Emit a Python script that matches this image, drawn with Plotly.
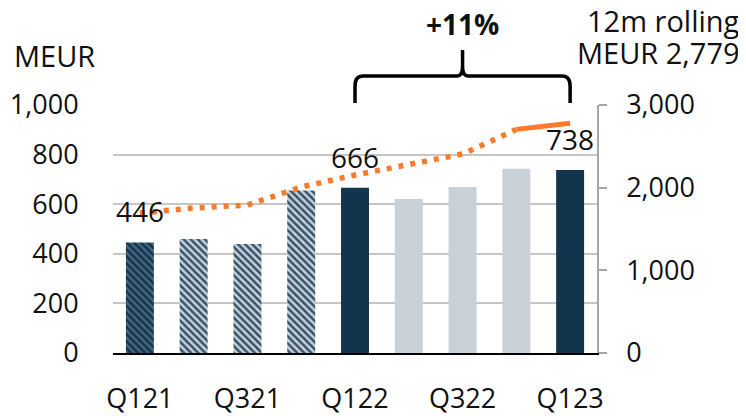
import plotly.graph_objects as go

quarters = ["Q121", "Q221", "Q321", "Q421", "Q122", "Q222", "Q322", "Q422", "Q123"]
revenue = [446, 460, 440, 655, 666, 621, 669, 743, 738]
rolling_12m = [1693, 1754, 1790, 2008, 2153, 2274, 2407, 2705, 2779]
labelled = [0, 4, 8]
growth_text = "+11%"
rolling_label = "MEUR 2,779"

NAVY = "#12344d"
GREY = "#c9d1d8"
ORANGE = "#fb7a2c"
FONT = "Open Sans"
TXT = "#111111"

pos = list(range(len(quarters)))

hatched_navy = [0]
hatched_grey = [1, 2, 3]
solid = [4, 5, 6, 7, 8]
solid_colors = [NAVY, GREY, GREY, GREY, NAVY]

fig = go.Figure()
fig.add_trace(go.Bar(
    x=[pos[i] for i in hatched_navy], y=[revenue[i] for i in hatched_navy], width=0.52,
    marker=dict(color=NAVY, line=dict(width=0),
                pattern=dict(shape="\\", fgcolor="#46667e", bgcolor=NAVY,
                             size=5, solidity=0.5, fillmode="replace")),
    hoverinfo="skip", showlegend=False,
))
fig.add_trace(go.Bar(
    x=[pos[i] for i in hatched_grey], y=[revenue[i] for i in hatched_grey], width=0.52,
    marker=dict(color=GREY, line=dict(width=0),
                pattern=dict(shape="\\", fgcolor="#34526a", bgcolor=GREY,
                             size=5, solidity=0.5, fillmode="replace")),
    hoverinfo="skip", showlegend=False,
))
fig.add_trace(go.Bar(
    x=[pos[i] for i in solid], y=[revenue[i] for i in solid], width=0.52,
    marker=dict(color=solid_colors, line=dict(width=0)),
    hoverinfo="skip", showlegend=False,
))

# dotted part of rolling line
fig.add_trace(go.Scatter(
    x=pos[:8], y=rolling_12m[:8], mode="lines", yaxis="y2",
    line=dict(color=ORANGE, width=5.5, dash="5px,7px"),
    showlegend=False, hoverinfo="skip",
))
# solid last segment
fig.add_trace(go.Scatter(
    x=pos[7:], y=rolling_12m[7:], mode="lines", yaxis="y2",
    line=dict(color=ORANGE, width=5),
    showlegend=False, hoverinfo="skip",
))

annotations = []
for i in labelled:
    annotations.append(dict(x=pos[i], y=revenue[i], xref="x", yref="y", text=str(revenue[i]),
                            showarrow=False, yanchor="middle", yshift=31,
                            font=dict(family=FONT, size=28, color=TXT)))

annotations += [
    dict(x=-0.2087, y=1.2016, xref="paper", yref="paper", text="MEUR", showarrow=False,
         xanchor="left", yanchor="middle", font=dict(family=FONT, size=29, color=TXT)),
    dict(x=1.2996, y=1.339, xref="paper", yref="paper", text="12m rolling", showarrow=False,
         xanchor="right", yanchor="middle", font=dict(family=FONT, size=29, color=TXT)),
    dict(x=1.2996, y=1.2137, xref="paper", yref="paper", text=rolling_label, showarrow=False,
         xanchor="right", yanchor="middle", font=dict(family=FONT, size=29, color=TXT)),
    dict(x=(pos[4] + pos[8]) / 2, y=1.325, xref="x", yref="paper", text="<b>" + growth_text + "</b>",
         showarrow=False, xanchor="center", yanchor="middle",
         font=dict(family=FONT, size=28, color=TXT)),
]

# curly bracket over Q122..Q123
def py(px):
    return (353 - px) / 248

a, b = pos[4], pos[8]
m = (a + b) / 2
y0, y1, y2, y3, y4 = py(103), py(86), py(76), py(66), py(50)
r = 0.15
path = (f"M {a},{y0} L {a},{y1} Q {a},{y2} {a+r},{y2} L {m-0.1},{y2} Q {m},{y2} {m},{y3} L {m},{y4} "
        f"M {m},{y3} Q {m},{y2} {m+0.1},{y2} L {b-r},{y2} Q {b},{y2} {b},{y1} L {b},{y0}")
shapes = [dict(type="path", xref="x", yref="paper", path=path,
               line=dict(color="#000000", width=3.5))]

fig.update_layout(
    width=738, height=408,
    margin=dict(l=105, r=149, t=97, b=63, autoexpand=False),
    paper_bgcolor="white", plot_bgcolor="white",
    font=dict(family=FONT, size=27, color=TXT),
    barmode="overlay",
    xaxis=dict(range=[-0.5, 8.5], tickvals=pos[::2], ticktext=quarters[::2], automargin=False,
               showgrid=False, zeroline=False, showline=True, linecolor="#000000", linewidth=2,
               ticks="outside", ticklen=21, tickcolor="rgba(0,0,0,0)",
               tickfont=dict(family=FONT, size=27, color=TXT)),
    yaxis=dict(range=[0, 1000], tickvals=[0, 200, 400, 600, 800, 1000], tickformat=",",
               automargin=False,
               showgrid=True, gridcolor="#c6c6c6", gridwidth=1.5, zeroline=False, showline=False,
               ticks="outside", ticklen=28, tickcolor="rgba(0,0,0,0)",
               tickfont=dict(family=FONT, size=27, color=TXT)),
    yaxis2=dict(range=[0, 3000], tickvals=[0, 1000, 2000, 3000], tickformat=",",
                automargin=False,
                overlaying="y", side="right", showgrid=False, zeroline=False,
                showline=True, linecolor="#a6a6a6", linewidth=1.5,
                ticks="outside", ticklen=8, tickcolor="#a6a6a6", tickwidth=1.5,
                ticklabelstandoff=14,
                tickfont=dict(family=FONT, size=27, color=TXT)),
    annotations=annotations,
    shapes=shapes,
)

fig.write_html("out.html")
